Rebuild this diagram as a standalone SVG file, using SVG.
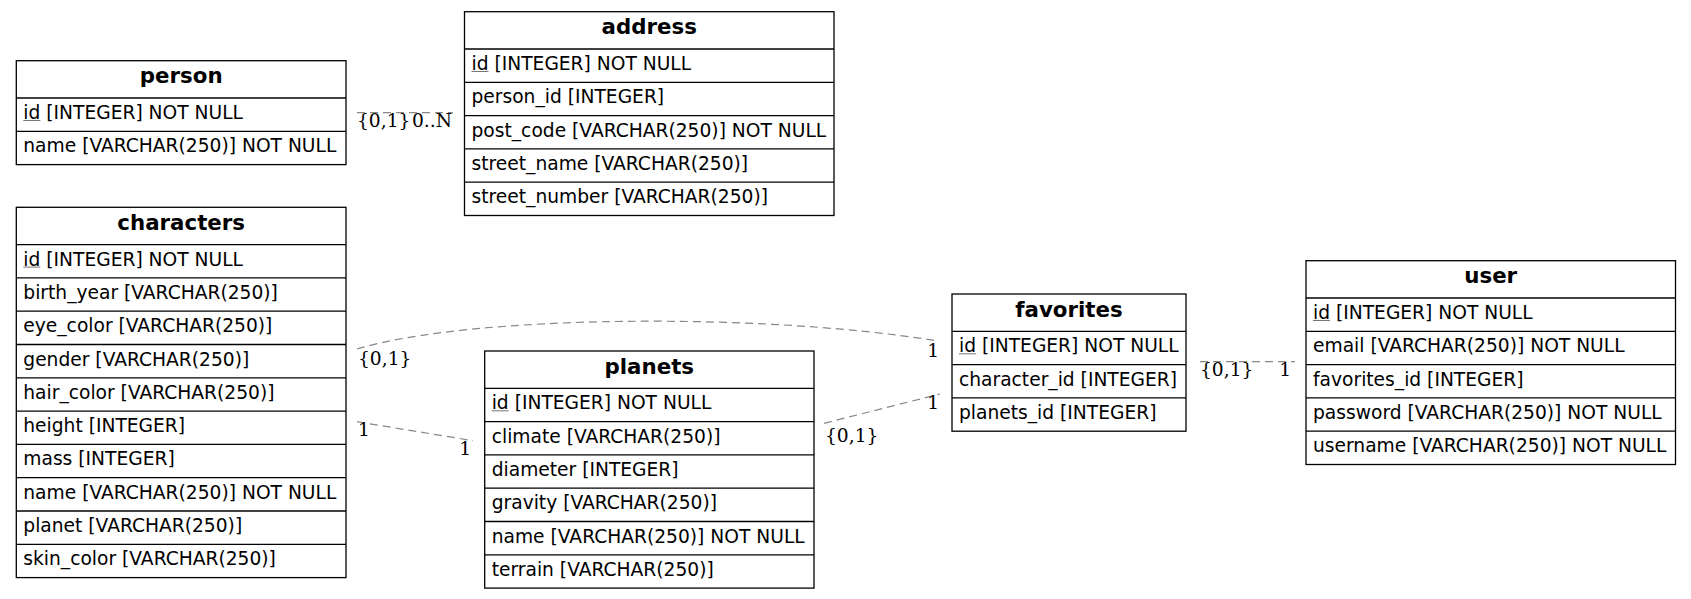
<svg xmlns="http://www.w3.org/2000/svg" width="1691" height="599" viewBox="0 0 1691 599">
<style>
.box{fill:#fff;stroke:#000;stroke-width:1.3}
.sep{stroke:#000;stroke-width:1.3}
.t{font-family:"DejaVu Sans",sans-serif;font-size:18.67px;fill:#000}
.h{font-family:"DejaVu Sans",sans-serif;font-size:21.33px;font-weight:bold;fill:#000;text-anchor:middle}
.u{stroke:#777;stroke-width:1}
.e{fill:none;stroke:#888;stroke-width:1.2;stroke-dasharray:8,5}
.l{font-family:"DejaVu Serif",serif;font-size:18.67px;fill:#000}
</style>
<rect width="1691" height="599" fill="#fff"/>
<g id="connectors">
<path class="e" d="M357,112.7 L453,112.7"/>
<path class="e" d="M357,349 C470,315 760,312 938,341"/>
<path class="e" d="M357,421.7 L473,440.7"/>
<path class="e" d="M824,423.3 L940,394"/>
<path class="e" d="M1200,361.7 L1295,361.7"/>
<text class="l" x="357" y="127">{0,1}</text>
<text class="l" x="452" y="127" text-anchor="end">0..N</text>
<text class="l" x="358" y="365">{0,1}</text>
<text class="l" x="939" y="357" text-anchor="end">1</text>
<text class="l" x="358" y="436">1</text>
<text class="l" x="471" y="455" text-anchor="end">1</text>
<text class="l" x="825" y="442">{0,1}</text>
<text class="l" x="939" y="409" text-anchor="end">1</text>
<text class="l" x="1200" y="376">{0,1}</text>
<text class="l" x="1291" y="376" text-anchor="end">1</text>
</g>
<g id="person">
<rect class="box" x="16.3" y="60.7" width="329.7" height="103.9"/>
<line class="sep" x1="16.3" y1="98" x2="346" y2="98"/>
<line class="sep" x1="16.3" y1="131.3" x2="346" y2="131.3"/>
<text class="h" x="181.2" y="83.4">person</text>
<text class="t" x="23.3" y="119">id [INTEGER] NOT NULL</text>
<line class="u" x1="23.3" y1="120.5" x2="40.3" y2="120.5"/>
<text class="t" x="23.3" y="152.3">name [VARCHAR(250)] NOT NULL</text>
</g>
<g id="address">
<rect class="box" x="464.5" y="11.7" width="369.5" height="203.8"/>
<line class="sep" x1="464.5" y1="49" x2="834" y2="49"/>
<line class="sep" x1="464.5" y1="82.3" x2="834" y2="82.3"/>
<line class="sep" x1="464.5" y1="115.6" x2="834" y2="115.6"/>
<line class="sep" x1="464.5" y1="148.9" x2="834" y2="148.9"/>
<line class="sep" x1="464.5" y1="182.2" x2="834" y2="182.2"/>
<text class="h" x="649.2" y="34.4">address</text>
<text class="t" x="471.5" y="70">id [INTEGER] NOT NULL</text>
<line class="u" x1="471.5" y1="71.5" x2="488.5" y2="71.5"/>
<text class="t" x="471.5" y="103.3">person_id [INTEGER]</text>
<text class="t" x="471.5" y="136.6">post_code [VARCHAR(250)] NOT NULL</text>
<text class="t" x="471.5" y="169.9">street_name [VARCHAR(250)]</text>
<text class="t" x="471.5" y="203.2">street_number [VARCHAR(250)]</text>
</g>
<g id="characters">
<rect class="box" x="16.3" y="207.3" width="329.7" height="370.3"/>
<line class="sep" x1="16.3" y1="244.6" x2="346" y2="244.6"/>
<line class="sep" x1="16.3" y1="277.9" x2="346" y2="277.9"/>
<line class="sep" x1="16.3" y1="311.2" x2="346" y2="311.2"/>
<line class="sep" x1="16.3" y1="344.5" x2="346" y2="344.5"/>
<line class="sep" x1="16.3" y1="377.8" x2="346" y2="377.8"/>
<line class="sep" x1="16.3" y1="411.1" x2="346" y2="411.1"/>
<line class="sep" x1="16.3" y1="444.4" x2="346" y2="444.4"/>
<line class="sep" x1="16.3" y1="477.7" x2="346" y2="477.7"/>
<line class="sep" x1="16.3" y1="511" x2="346" y2="511"/>
<line class="sep" x1="16.3" y1="544.3" x2="346" y2="544.3"/>
<text class="h" x="181.2" y="230">characters</text>
<text class="t" x="23.3" y="265.6">id [INTEGER] NOT NULL</text>
<line class="u" x1="23.3" y1="267.1" x2="40.3" y2="267.1"/>
<text class="t" x="23.3" y="298.9">birth_year [VARCHAR(250)]</text>
<text class="t" x="23.3" y="332.2">eye_color [VARCHAR(250)]</text>
<text class="t" x="23.3" y="365.5">gender [VARCHAR(250)]</text>
<text class="t" x="23.3" y="398.8">hair_color [VARCHAR(250)]</text>
<text class="t" x="23.3" y="432.1">height [INTEGER]</text>
<text class="t" x="23.3" y="465.4">mass [INTEGER]</text>
<text class="t" x="23.3" y="498.7">name [VARCHAR(250)] NOT NULL</text>
<text class="t" x="23.3" y="532">planet [VARCHAR(250)]</text>
<text class="t" x="23.3" y="565.3">skin_color [VARCHAR(250)]</text>
</g>
<g id="planets">
<rect class="box" x="484.7" y="351" width="329.3" height="237.1"/>
<line class="sep" x1="484.7" y1="388.3" x2="814" y2="388.3"/>
<line class="sep" x1="484.7" y1="421.6" x2="814" y2="421.6"/>
<line class="sep" x1="484.7" y1="454.9" x2="814" y2="454.9"/>
<line class="sep" x1="484.7" y1="488.2" x2="814" y2="488.2"/>
<line class="sep" x1="484.7" y1="521.5" x2="814" y2="521.5"/>
<line class="sep" x1="484.7" y1="554.8" x2="814" y2="554.8"/>
<text class="h" x="649.3" y="373.7">planets</text>
<text class="t" x="491.7" y="409.3">id [INTEGER] NOT NULL</text>
<line class="u" x1="491.7" y1="410.8" x2="508.7" y2="410.8"/>
<text class="t" x="491.7" y="442.6">climate [VARCHAR(250)]</text>
<text class="t" x="491.7" y="475.9">diameter [INTEGER]</text>
<text class="t" x="491.7" y="509.2">gravity [VARCHAR(250)]</text>
<text class="t" x="491.7" y="542.5">name [VARCHAR(250)] NOT NULL</text>
<text class="t" x="491.7" y="575.8">terrain [VARCHAR(250)]</text>
</g>
<g id="favorites">
<rect class="box" x="952" y="294" width="234" height="137.2"/>
<line class="sep" x1="952" y1="331.3" x2="1186" y2="331.3"/>
<line class="sep" x1="952" y1="364.6" x2="1186" y2="364.6"/>
<line class="sep" x1="952" y1="397.9" x2="1186" y2="397.9"/>
<text class="h" x="1069" y="316.7">favorites</text>
<text class="t" x="959" y="352.3">id [INTEGER] NOT NULL</text>
<line class="u" x1="959" y1="353.8" x2="976" y2="353.8"/>
<text class="t" x="959" y="385.6">character_id [INTEGER]</text>
<text class="t" x="959" y="418.9">planets_id [INTEGER]</text>
</g>
<g id="user">
<rect class="box" x="1306" y="260.7" width="369.5" height="203.8"/>
<line class="sep" x1="1306" y1="298" x2="1675.5" y2="298"/>
<line class="sep" x1="1306" y1="331.3" x2="1675.5" y2="331.3"/>
<line class="sep" x1="1306" y1="364.6" x2="1675.5" y2="364.6"/>
<line class="sep" x1="1306" y1="397.9" x2="1675.5" y2="397.9"/>
<line class="sep" x1="1306" y1="431.2" x2="1675.5" y2="431.2"/>
<text class="h" x="1490.7" y="283.4">user</text>
<text class="t" x="1313" y="319">id [INTEGER] NOT NULL</text>
<line class="u" x1="1313" y1="320.5" x2="1330" y2="320.5"/>
<text class="t" x="1313" y="352.3">email [VARCHAR(250)] NOT NULL</text>
<text class="t" x="1313" y="385.6">favorites_id [INTEGER]</text>
<text class="t" x="1313" y="418.9">password [VARCHAR(250)] NOT NULL</text>
<text class="t" x="1313" y="452.2">username [VARCHAR(250)] NOT NULL</text>
</g>
</svg>
